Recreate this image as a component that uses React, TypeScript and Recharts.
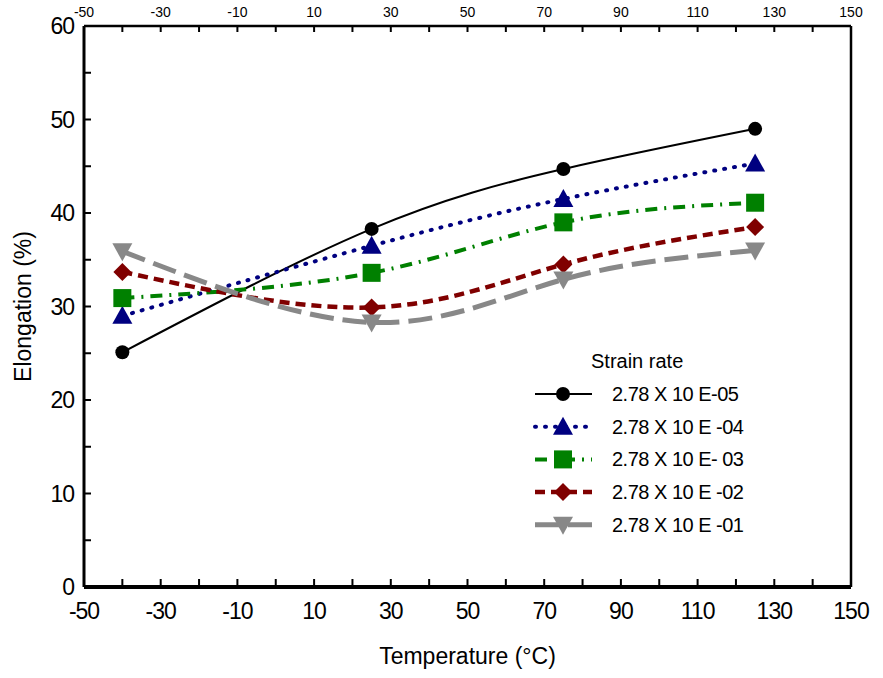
import { LineChart, Line, XAxis, YAxis } from 'recharts';

const temps = [-40, 25, 75, 125];
const rate05 = [25.1, 38.3, 44.7, 49.0];
const rate04 = [29.0, 36.5, 41.5, 45.3];
const rate03 = [30.9, 33.6, 39.0, 41.1];
const rate02 = [33.7, 29.9, 34.5, 38.5];
const rate01 = [35.9, 28.3, 32.9, 36.0];

const seriesNames = ['2.78 X 10 E-05', '2.78 X 10 E -04', '2.78 X 10 E- 03', '2.78 X 10 E -02', '2.78 X 10 E -01'];
const xTicks = [-50, -40, -30, -20, -10, 0, 10, 20, 30, 40, 50, 60, 70, 80, 90, 100, 110, 120, 130, 140, 150];
const yTicks = [0, 5, 10, 15, 20, 25, 30, 35, 40, 45, 50, 55, 60];

const FONT = '"Liberation Sans", Arial, sans-serif';

const data = temps.map((t, i) => ({
  t,
  r05: rate05[i],
  r04: rate04[i],
  r03: rate03[i],
  r02: rate02[i],
  r01: rate01[i],
}));

const series = [
  { key: 'r05', name: seriesNames[0], color: '#000000', shape: 'circle', width: 2, dash: undefined, cap: 'butt' },
  { key: 'r04', name: seriesNames[1], color: '#000080', shape: 'triUp', width: 4, dash: '1 9', cap: 'round' },
  { key: 'r03', name: seriesNames[2], color: '#008000', shape: 'square', width: 4, dash: '12 7 2 7', cap: 'butt' },
  { key: 'r02', name: seriesNames[3], color: '#800000', shape: 'diamond', width: 4.5, dash: '10 6', cap: 'butt' },
  { key: 'r01', name: seriesNames[4], color: '#888888', shape: 'triDown', width: 5, dash: '24 9', cap: 'butt' },
];

function Marker({ shape, cx, cy, color }: any) {
  if (cx == null || cy == null) return null;
  if (shape === 'circle') return <circle cx={cx} cy={cy} r={7} fill={color} />;
  if (shape === 'square') return <rect x={cx - 9} y={cy - 9} width={18} height={18} fill={color} />;
  if (shape === 'diamond')
    return <polygon points={`${cx},${cy - 9} ${cx + 9},${cy} ${cx},${cy + 9} ${cx - 9},${cy}`} fill={color} />;
  if (shape === 'triUp')
    return <polygon points={`${cx},${cy - 10} ${cx + 10},${cy + 8} ${cx - 10},${cy + 8}`} fill={color} />;
  return <polygon points={`${cx - 10},${cy - 8} ${cx + 10},${cy - 8} ${cx},${cy + 10}`} fill={color} />;
}

function BottomTick({ x, y, payload }: any) {
  const v = payload.value;
  const major = (v + 50) % 20 === 0;
  return (
    <g>
      <line x1={x} y1={y} x2={x} y2={y - 8} stroke="#000" strokeWidth={2} />
      {major && (
        <text x={x} y={y + 32} textAnchor="middle" fontSize={23} fontFamily={FONT} fill="#000" letterSpacing={-1}>
          {v}
        </text>
      )}
    </g>
  );
}

function TopTick({ x, y, payload }: any) {
  const v = payload.value;
  const major = (v + 50) % 20 === 0;
  return (
    <g>
      <line x1={x} y1={y} x2={x} y2={y + 6} stroke="#000" strokeWidth={2} />
      {major && (
        <text x={x} y={y - 9} textAnchor="middle" fontSize={14} fontFamily={FONT} fill="#000">
          {v}
        </text>
      )}
    </g>
  );
}

function LeftTick({ x, y, payload }: any) {
  const v = payload.value;
  const major = v % 10 === 0;
  return (
    <g>
      <line x1={x} y1={y} x2={x + 7} y2={y} stroke="#000" strokeWidth={2} />
      {major && (
        <text x={x - 10} y={y + 8} textAnchor="end" fontSize={23} fontFamily={FONT} fill="#000" letterSpacing={-1}>
          {v}
        </text>
      )}
    </g>
  );
}

function RightTick({ x, y, payload }: any) {
  const v = payload.value;
  const major = v % 10 === 0;
  return (
    <g>
      <line x1={x} y1={y} x2={x - 6} y2={y} stroke="#000" strokeWidth={2} />
      {major && (
        <text x={x + 10} y={y + 5} textAnchor="start" fontSize={14} fontFamily={FONT} fill="#000">
          {v}
        </text>
      )}
    </g>
  );
}

function LegendBox() {
  return (
    <svg width={260} height={200} style={{ fontFamily: FONT, display: 'block' }}>
      <text x={61} y={26} fontSize={20} fill="#000">
        Strain rate
      </text>
      {series.map((s, i) => {
        const cy = 52 + i * 32.7;
        return (
          <g key={s.key}>
            <line
              x1={5}
              y1={cy}
              x2={62}
              y2={cy}
              stroke={s.color}
              strokeWidth={s.width}
              strokeDasharray={s.dash}
              strokeLinecap={s.cap as any}
            />
            <Marker shape={s.shape} cx={33} cy={cy} color={s.color} />
            <text x={82} y={cy + 7} fontSize={20} fill="#000" letterSpacing={-0.5}>
              {s.name}
            </text>
          </g>
        );
      })}
    </svg>
  );
}

export default function App() {
  return (
    <div style={{ position: 'absolute', left: 0, top: 0, width: 883, height: 678, background: '#fff' }}>
      <LineChart
        width={883}
        height={678}
        data={data}
        margin={{ top: 6, right: 2, bottom: 51, left: 34 }}
        style={{ fontFamily: FONT }}
      >
        <XAxis
          xAxisId="bottom"
          dataKey="t"
          type="number"
          domain={[-50, 150]}
          ticks={xTicks}
          interval={0}
          height={40}
          tickSize={0}
          tickMargin={0}
          tick={<BottomTick />}
          axisLine={{ stroke: '#000', strokeWidth: 4 }}
          label={{ value: 'Temperature (\u00B0C)', position: 'insideBottom', offset: -37, fontSize: 23, fill: '#000', fontFamily: FONT }}
        />
        <XAxis
          xAxisId="top"
          orientation="top"
          dataKey="t"
          type="number"
          domain={[-50, 150]}
          ticks={xTicks}
          interval={0}
          height={20}
          tickSize={0}
          tickMargin={0}
          tick={<TopTick />}
          axisLine={{ stroke: '#000', strokeWidth: 2.5 }}
        />
        <YAxis
          yAxisId="left"
          type="number"
          domain={[0, 60]}
          ticks={yTicks}
          interval={0}
          width={50}
          tickSize={0}
          tickMargin={0}
          tick={<LeftTick />}
          axisLine={{ stroke: '#000', strokeWidth: 3 }}
          label={{ value: 'Elongation (%)', angle: -90, position: 'insideLeft', offset: -11, fontSize: 23, fill: '#000', fontFamily: FONT, style: { textAnchor: 'middle' } }}
        />
        <YAxis
          yAxisId="right"
          orientation="right"
          type="number"
          domain={[0, 60]}
          ticks={yTicks}
          interval={0}
          width={30}
          tickSize={0}
          tickMargin={0}
          tick={<RightTick />}
          axisLine={{ stroke: '#000', strokeWidth: 2.5 }}
        />
        {series.map((s) => (
          <Line
            key={s.key}
            xAxisId="bottom"
            yAxisId="left"
            type="natural"
            dataKey={s.key}
            name={s.name}
            stroke={s.color}
            strokeWidth={s.width}
            strokeDasharray={s.dash}
            strokeLinecap={s.cap as any}
            isAnimationActive={false}
            dot={(p: any) => <Marker key={`${s.key}-${p.index}`} shape={s.shape} cx={p.cx} cy={p.cy} color={s.color} />}
            activeDot={false}
          />
        ))}
      </LineChart>
      <div style={{ position: 'absolute', left: 530, top: 342 }}>
        <LegendBox />
      </div>
    </div>
  );
}
